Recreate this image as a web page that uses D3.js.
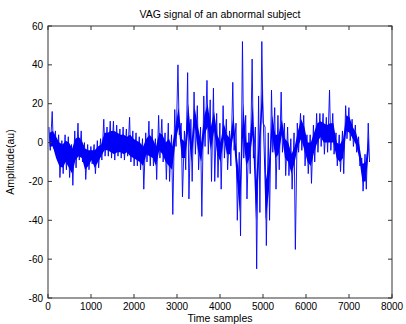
<!DOCTYPE html>
<html>
<head>
<meta charset="utf-8">
<script src="https://cdn.jsdelivr.net/npm/d3@7"></script>
<style>
  body { margin: 0; background: #fff; }
  svg { display: block; font-family: "Liberation Sans", Arial, sans-serif; }
</style>
</head>
<body>
<script>
// 75 samples per bin, max / min of the signal
var binSize = 75;
var upper = [8,16,6,4,1,4,3,-1,6,10, 6,0,-1,-2,-1,1,2,12,8,11,
             11,9,7,8,7,13,6,5,3,2, 5,11,7,2,14,12,5,10,4,17,
             40,10,6,36,12,26,19,8,24,32, 22,28,15,10,19,12,6,31,10,-5,
             52,14,5,43,8,24,52,8,5,27, 18,14,26,10,8,2,5,10,15,14,
             4,4,9,15,15,15,13,27,15,5, 4,6,19,18,12,9,3,-8,-6,10];
var lower = [-4,-3,-8,-18,-16,-14,-18,-22,-13,-9, -10,-19,-14,-11,-16,-13,-9,-7,-7,-8,
             -9,-7,-8,-9,-7,-10,-12,-12,-14,-24, -10,-12,-12,-19,-8,-10,-19,-20,-37,-2,
             4,-28,-14,-29,-20,-6,-14,-38,-2,-6, -20,-20,-18,-24,-8,-14,-12,-4,-40,-48,
             -8,-29,-16,-8,-65,-36,10,-53,-40,-5, -24,-14,-5,-17,-17,-24,-55,-5,-4,-12,
             -16,-21,-10,-5,-2,-6,-5,-4,-6,-12, -15,-16,2,1,-2,-5,-12,-25,-24,-10];
// dense (solid blue) part of each bin
var coreUpper = [5,6,3,0,-1,1,0,-3,2,3, 1,-3,-4,-4,-4,-2,-1,5,5,6,
                 6,5,4,4,3,4,2,1,0,-2, 2,4,2,-2,5,4,0,2,-2,8,
                 18,2,0,20,0,18,8,0,14,20, 8,16,4,0,10,4,2,14,-6,-20,
                 20,0,0,20,-20,4,30,-20,-10,14, 4,4,12,2,0,-6,-2,6,12,8,
                 0,0,5,10,11,10,9,10,10,0, -1,2,14,13,8,5,-1,-11,-10,4];
var coreLower = [-2,-2,-8,-12,-13,-10,-13,-16,-9,-7, -8,-14,-12,-9,-13,-10,-7,-4,-4,-5,
                 -6,-5,-5,-6,-5,-7,-8,-9,-10,-12, -6,-7,-8,-12,-4,-6,-10,-12,-14,0,
                 8,-8,-8,6,-10,8,-4,-10,4,8, -4,6,-6,-10,2,-6,-6,4,-18,-36,
                 4,-12,-8,4,-40,-8,18,-40,-25,4, -8,-6,4,-8,-10,-16,-10,-2,2,-4,
                 -10,-12,-5,0,3,0,0,0,0,-8, -10,-8,6,5,2,-1,-8,-20,-20,-4];
var xTicks = [0,1000,2000,3000,4000,5000,6000,7000,8000];
var yTicks = [-80,-60,-40,-20,0,20,40,60];

var W = 406, H = 324;
var m = {left: 48, right: 14, top: 26, bottom: 26};

var svg = d3.select("body").append("svg").attr("width", W).attr("height", H);

var x = d3.scaleLinear().domain([0, 8000]).range([m.left, W - m.right]);
var y = d3.scaleLinear().domain([-80, 60]).range([H - m.bottom, m.top]);

// solid band
svg.append("path")
	.datum(coreUpper)
	.attr("fill", "#0000f0")
	.attr("d", d3.area()
		.x(function(d,i){return x(i*binSize + binSize/2);})
		.y0(function(d,i){return y(coreLower[i]);})
		.y1(function(d){return y(d);}));

// signal, each bin drawn as max then min
var pts = [];
upper.forEach(function(v, i){
	pts.push([i*binSize + binSize*0.3, v]);
	pts.push([i*binSize + binSize*0.7, lower[i]]);
});

svg.append("path")
	.datum(pts)
	.attr("fill", "none")
	.attr("stroke", "#0000ff")
	.attr("stroke-width", 0.9)
	.attr("d", d3.line().x(function(d){return x(d[0]);}).y(function(d){return y(d[1]);}));

// box
svg.append("rect")
	.attr("x", m.left).attr("y", m.top)
	.attr("width", W - m.left - m.right).attr("height", H - m.top - m.bottom)
	.attr("fill", "none").attr("stroke", "#333").attr("stroke-width", 1);

var tl = 4;
var g = svg.append("g").attr("stroke", "#333").attr("stroke-width", 1);
xTicks.forEach(function(t){
	g.append("line").attr("x1", x(t)).attr("x2", x(t)).attr("y1", y(-80)).attr("y2", y(-80) - tl);
	g.append("line").attr("x1", x(t)).attr("x2", x(t)).attr("y1", y(60)).attr("y2", y(60) + tl);
});
yTicks.forEach(function(t){
	g.append("line").attr("x1", x(0)).attr("x2", x(0) + tl).attr("y1", y(t)).attr("y2", y(t));
	g.append("line").attr("x1", x(8000)).attr("x2", x(8000) - tl).attr("y1", y(t)).attr("y2", y(t));
});

svg.selectAll(".xl").data(xTicks).enter().append("text")
	.attr("x", function(d){return x(d);})
	.attr("y", y(-80) + 12)
	.attr("text-anchor", "middle")
	.attr("font-size", 10)
	.text(function(d){return d;});

svg.selectAll(".yl").data(yTicks).enter().append("text")
	.attr("x", m.left - 5)
	.attr("y", function(d){return y(d) + 3.5;})
	.attr("text-anchor", "end")
	.attr("font-size", 10)
	.text(function(d){return d;});

svg.append("text")
	.attr("x", (m.left + W - m.right)/2).attr("y", 18)
	.attr("text-anchor", "middle").attr("font-size", 10.5)
	.text("VAG signal of an abnormal subject");

svg.append("text")
	.attr("x", (m.left + W - m.right)/2).attr("y", 322)
	.attr("text-anchor", "middle").attr("font-size", 10.5)
	.text("Time samples");

svg.append("text")
	.attr("transform", "translate(14," + ((m.top + H - m.bottom)/2) + ") rotate(-90)")
	.attr("text-anchor", "middle").attr("font-size", 10.5)
	.text("Amplitude(au)");
</script>
</body>
</html>
